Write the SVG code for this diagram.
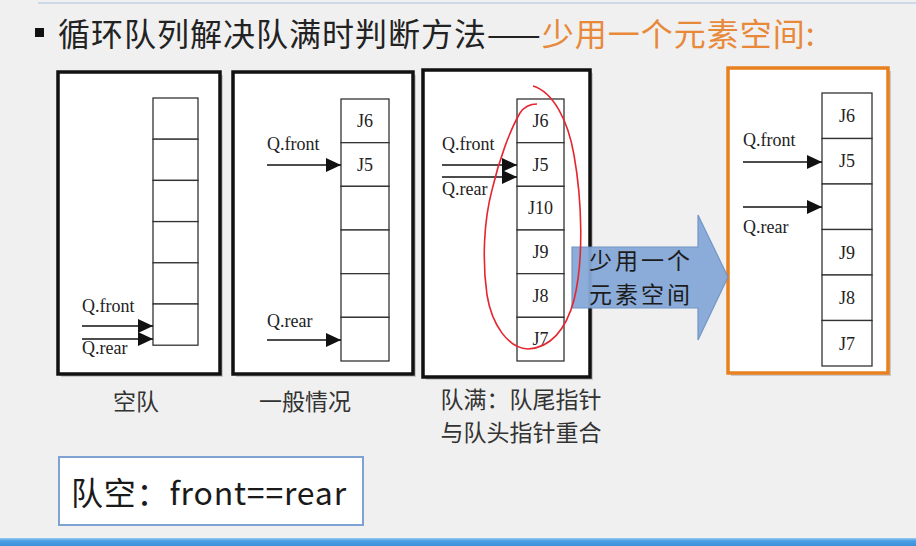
<svg xmlns="http://www.w3.org/2000/svg" width="916" height="546" viewBox="0 0 916 546">
<style>
.cjk{font-family:"Noto Sans CJK SC","Noto Sans",sans-serif;}
.ser{font-family:"Liberation Serif","Times New Roman",serif;fill:#222;}
.cell{fill:#fff;stroke:#333;stroke-width:1.3;}
.panel{fill:#fff;stroke:#111;stroke-width:3.5;}
.shadow{fill:#9a9a9a;opacity:0.45;}
.ptr{stroke:#111;stroke-width:1.6;fill:none;marker-end:url(#ah);}
.lbl{font-size:18px;}
.ctext{font-size:18px;text-anchor:middle;}
.cap{font-size:23px;fill:#333;text-anchor:middle;}
</style>
<defs>
<marker id="ah" viewBox="0 0 15 14" refX="15" refY="7" markerWidth="15" markerHeight="14" markerUnits="userSpaceOnUse" orient="auto">
<path d="M0,0 L15,7 L0,14 Z" fill="#111"/>
</marker>
<linearGradient id="bar" x1="0" y1="0" x2="0" y2="1">
<stop offset="0" stop-color="#9cccf2"/>
<stop offset="0.35" stop-color="#4a9fe4"/>
<stop offset="1" stop-color="#3b90da"/>
</linearGradient>
</defs>
<rect x="0" y="0" width="916" height="546" fill="#f0f0f0"/>
<line x1="38" y1="3" x2="916" y2="3" stroke="#cdd8e8" stroke-width="2"/>
<rect x="0" y="538" width="916" height="8" fill="url(#bar)"/>

<g id="title">
<rect x="35" y="28" width="9" height="9" fill="#111"/>
<text class="cjk" x="58" y="46" font-size="32" letter-spacing="1" fill="#222">循环队列解决队满时判断方法——<tspan fill="#e8893a">少用一个元素空间:</tspan></text>
</g>

<g id="panel-empty">
<rect class="shadow" x="61" y="75" width="162" height="302"/>
<rect class="panel" x="58" y="72" width="162" height="302"/>
<rect class="cell" x="153" y="98" width="45" height="41.2"/>
<rect class="cell" x="153" y="139.2" width="45" height="41.2"/>
<rect class="cell" x="153" y="180.4" width="45" height="41.2"/>
<rect class="cell" x="153" y="221.6" width="45" height="41.2"/>
<rect class="cell" x="153" y="262.8" width="45" height="41.2"/>
<rect class="cell" x="153" y="304" width="45" height="41.2"/>
<text class="ser lbl" x="82" y="312">Q.front</text>
<text class="ser lbl" x="82" y="354">Q.rear</text>
<text class="cjk cap" x="136" y="410">空队</text>
</g>

<g id="panel-normal">
<rect class="shadow" x="236" y="75" width="180" height="302"/>
<rect class="panel" x="233" y="72" width="180" height="302"/>
<rect class="cell" x="341" y="99" width="48" height="43.67"/>
<rect class="cell" x="341" y="142.67" width="48" height="43.67"/>
<rect class="cell" x="341" y="186.33" width="48" height="43.67"/>
<rect class="cell" x="341" y="230" width="48" height="43.67"/>
<rect class="cell" x="341" y="273.67" width="48" height="43.67"/>
<rect class="cell" x="341" y="317.33" width="48" height="43.67"/>
<text class="ser ctext" x="365" y="127">J6</text>
<text class="ser ctext" x="365" y="171">J5</text>
<text class="ser lbl" x="267" y="150">Q.front</text>
<text class="ser lbl" x="267" y="327">Q.rear</text>
<text class="cjk cap" x="305" y="410">一般情况</text>
</g>

<g id="panel-full">
<rect class="shadow" x="426" y="73" width="167" height="307"/>
<rect class="panel" x="423" y="70" width="167" height="307"/>
<rect class="cell" x="517" y="99" width="47" height="43.67"/>
<rect class="cell" x="517" y="142.67" width="47" height="43.67"/>
<rect class="cell" x="517" y="186.33" width="47" height="43.67"/>
<rect class="cell" x="517" y="230" width="47" height="43.67"/>
<rect class="cell" x="517" y="273.67" width="47" height="43.67"/>
<rect class="cell" x="517" y="317.33" width="47" height="43.67"/>
<text class="ser ctext" x="540.5" y="127">J6</text>
<text class="ser ctext" x="540.5" y="171">J5</text>
<text class="ser ctext" x="540.5" y="214">J10</text>
<text class="ser ctext" x="540.5" y="258">J9</text>
<text class="ser ctext" x="540.5" y="302">J8</text>
<text class="ser ctext" x="540.5" y="345">J7</text>
<text class="ser lbl" x="442" y="150">Q.front</text>
<text class="ser lbl" x="442" y="195">Q.rear</text>
<text class="cjk cap" x="521" y="408" font-size="22">队满：队尾指针</text>
<text class="cjk cap" x="521" y="441" font-size="22">与队头指针重合</text>
</g>

<g id="panel-solution">
<rect class="shadow" x="731" y="71" width="160" height="305"/>
<rect x="728" y="68" width="160" height="305" fill="#fff" stroke="#e8801f" stroke-width="3.5"/>
<rect class="cell" x="822" y="93" width="50" height="45.5"/>
<rect class="cell" x="822" y="138.5" width="50" height="45.5"/>
<rect class="cell" x="822" y="184" width="50" height="45.5"/>
<rect class="cell" x="822" y="229.5" width="50" height="45.5"/>
<rect class="cell" x="822" y="275" width="50" height="45.5"/>
<rect class="cell" x="822" y="320.5" width="50" height="45.5"/>
<text class="ser ctext" x="847" y="122">J6</text>
<text class="ser ctext" x="847" y="167">J5</text>
<text class="ser ctext" x="847" y="259">J9</text>
<text class="ser ctext" x="847" y="304">J8</text>
<text class="ser ctext" x="847" y="350">J7</text>
<text class="ser lbl" x="743" y="146">Q.front</text>
<text class="ser lbl" x="743" y="233">Q.rear</text>
</g>

<g id="big-arrow">
<path d="M572,247 L698,247 L698,215 L728,277 L698,340 L698,308 L572,308 Z" fill="#86a8d8" stroke="#6d92c6" stroke-width="1.2" opacity="0.95"/>
<text class="cjk" x="589" y="269" font-size="23" letter-spacing="3" fill="#1c1c1c">少用一个</text>
<text class="cjk" x="589" y="303" font-size="23" letter-spacing="3" fill="#1c1c1c">元素空间</text>
</g>

<g id="empty-rule">
<rect x="59" y="457" width="304" height="68" fill="#fff" stroke="#7fa2d4" stroke-width="2"/>
<text class="cjk" x="71" y="505" font-size="32" letter-spacing="0.8" fill="#1a1a1a">队空：front==rear</text>
</g>

<g id="connectors">
<line class="ptr" x1="82" y1="326" x2="153" y2="326"/>
<line class="ptr" x1="82" y1="339" x2="153" y2="339"/>
<line class="ptr" x1="267" y1="165" x2="341" y2="165"/>
<line class="ptr" x1="267" y1="340" x2="341" y2="340"/>
<line class="ptr" x1="442" y1="165" x2="517" y2="165"/>
<line class="ptr" x1="442" y1="177" x2="517" y2="177"/>
<line class="ptr" x1="743" y1="162" x2="822" y2="162"/>
<line class="ptr" x1="743" y1="207" x2="822" y2="207"/>
</g>

<g id="red-loop">
<path d="M533,86 C553,92 568,120 574,155 C582,200 584,260 574,300 C566,330 550,348 528,349 C508,348 492,325 487,295 C482,260 484,220 492,190 C499,160 510,130 520,113 C524,107 530,104 537,104" fill="none" stroke="#e52630" stroke-width="1.6"/>
</g>
</svg>
